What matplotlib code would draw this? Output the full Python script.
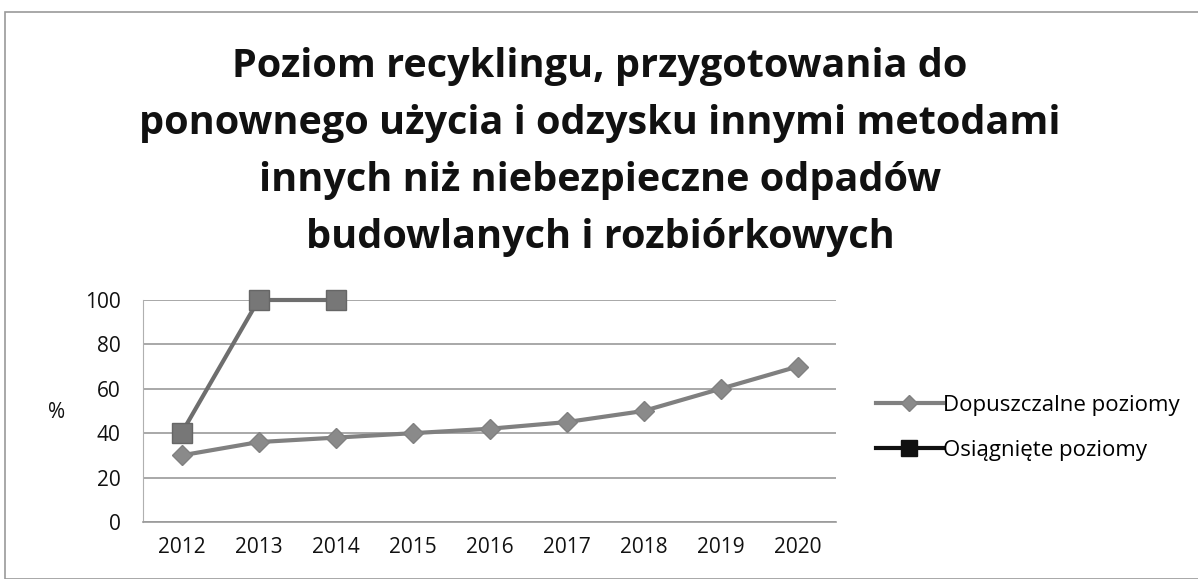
import matplotlib
matplotlib.use("Agg")
import matplotlib.pyplot as plt
from matplotlib.lines import Line2D
from matplotlib.patches import Rectangle

years = ["2012", "2013", "2014", "2015", "2016", "2017", "2018", "2019", "2020"]
dopuszczalne = [30, 36, 38, 40, 42, 45, 50, 60, 70]
osiagniete = [40, 100, 100]
yticks = [0, 20, 40, 60, 80, 100]
title = ("Poziom recyklingu, przygotowania do\n"
         "ponownego użycia i odzysku innymi metodami\n"
         "innych niż niebezpieczne odpadów\n"
         "budowlanych i rozbiórkowych")

plt.rcParams['font.family'] = ['Open Sans', 'DejaVu Sans']

W, H = 1198, 579
fig = plt.figure(figsize=(W / 100, H / 100), dpi=100)

def box(l, t, r, b):
    return [l / W, 1 - b / H, (r - l) / W, (b - t) / H]

ax = fig.add_axes(box(143, 300, 836, 522))
x = list(range(len(years)))
ax.plot(x, dopuszczalne, color="#808080", lw=3, marker="D", ms=10,
        markerfacecolor="#8a8a8a", markeredgecolor="#808080", zorder=3, clip_on=False)
ax.plot(x[:len(osiagniete)], osiagniete, color="#6e6e6e", lw=3, marker="s", ms=14,
        markerfacecolor="#777777", markeredgecolor="#666666", zorder=4, clip_on=False)

ax.set_xlim(-0.5, len(years) - 0.5)
ax.set_ylim(0, 100)
ax.set_yticks(yticks)
ax.set_xticks(x)
ax.set_xticklabels(years)
ax.yaxis.grid(True, color="#9a9a9a", lw=1.2)
ax.set_axisbelow(True)
for s in ["top", "right"]:
    ax.spines[s].set_visible(False)
ax.spines["left"].set_color("#b0b0b0")
ax.spines["bottom"].set_color("#9a9a9a")
ax.spines["bottom"].set_linewidth(1.2)
ax.tick_params(axis="both", length=0, labelsize=15, colors="#111111")
ax.tick_params(axis="y", pad=16)
ax.tick_params(axis="x", pad=11)

fig.text(57 / W, 1 - 412 / H, "%", fontsize=15, ha="center", va="center", color="#111111")

fig.text(600 / W, 1 - 152 / H, title, fontsize=28.5, fontweight="bold", ha="center",
         va="center", linespacing=1.6, color="#111111")

handles = [
    Line2D([], [], color="#808080", lw=3, marker="D", ms=8,
           markerfacecolor="#8a8a8a", markeredgecolor="#808080"),
    Line2D([], [], color="#111111", lw=3, marker="s", ms=11,
           markerfacecolor="#111111"),
]
fig.legend(handles, ["Dopuszczalne poziomy", "Osiągnięte poziomy"],
           loc="center left", bbox_to_anchor=(856 / W, 1 - 428 / H),
           frameon=False, fontsize=16, handlelength=3.0, handletextpad=0.0,
           labelspacing=1.1)

fig.patches.append(Rectangle((5 / W, 0), 1.2, 1 - 12 / H, transform=fig.transFigure,
                             fill=False, edgecolor="#9a9a9a", lw=1.2))

fig.savefig("out.png", dpi=100)
